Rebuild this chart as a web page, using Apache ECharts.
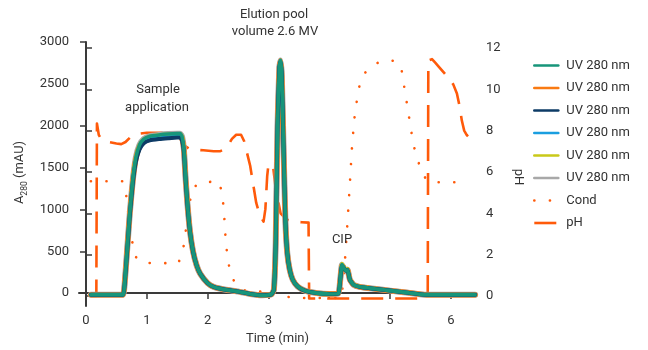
<!DOCTYPE html>
<html><head><meta charset="utf-8">
<script src="https://cdn.jsdelivr.net/npm/echarts@6/dist/echarts.min.js"></script>
<style>html,body{margin:0;padding:0;background:#fff}#c{width:648px;height:350px}</style>
</head><body><div id="c"></div>
<script>
// ---- data (time in min) ----
const xTicks = [0, 1, 2, 3, 4, 5, 6];
const leftTicks = [0, 500, 1000, 1500, 2000, 2500, 3000];
const rightTicks = [0, 2, 4, 6, 8, 10, 12];

const uvTime = [0.08,0.5,0.61,0.64,0.68,0.72,0.77,0.82,0.88,0.95,
  1.05,1.2,1.35,1.5,1.55,1.58,1.61,1.64,1.67,1.71,
  1.76,1.82,1.88,2.0,2.1,2.3,2.5,2.7,2.9,3.05,
  3.09,3.12,3.15,3.18,3.20,3.22,3.25,3.28,3.31,3.35,
  3.40,3.48,3.6,3.8,4.0,4.15,4.18,4.21,4.24,4.27,
  4.30,4.34,4.40,4.5,4.7,5.0,5.3,5.6,6.0,6.4];

const uvGreen = [-20,-20,-20,150,550,950,1350,1620,1770,1840,
  1875,1890,1900,1905,1905,1870,1720,1350,1050,740,
  500,330,230,120,75,40,20,-10,-25,-15,
  40,600,2000,2700,2780,2600,1700,850,480,280,
  160,80,30,0,-10,-5,150,340,300,270,
  280,160,100,75,55,30,5,-20,-20,-20];
const uvOrange = [-20,-20,-20,150,550,950,1340,1600,1750,1815,
  1855,1870,1880,1885,1885,1850,1710,1350,1050,740,
  500,330,230,120,75,40,20,-10,-25,-15,
  40,600,2000,2700,2775,2600,1700,850,480,280,
  160,80,30,0,-10,-5,150,335,300,270,
  280,160,100,75,55,30,5,-20,-20,-20];
const uvNavy = [-20,-20,-20,140,530,930,1320,1570,1715,1790,
  1825,1840,1850,1858,1858,1825,1690,1335,1040,735,
  500,330,230,120,75,40,20,-10,-25,-15,
  40,600,2000,2700,2770,2600,1700,850,480,280,
  160,80,30,0,-10,-5,150,330,300,270,
  280,160,100,75,55,30,5,-20,-20,-20];
const uvLightBlue = [-20,-20,-20,145,540,940,1330,1585,1730,1800,
  1835,1850,1860,1868,1868,1835,1695,1340,1045,738,
  500,330,230,120,75,40,20,-10,-25,-15,
  40,600,2000,2700,2775,2600,1700,850,480,280,
  160,80,30,0,-10,-5,150,335,300,270,
  280,160,100,75,55,30,5,-20,-20,-20];
const uvYellow = [-20,-20,-20,150,550,950,1350,1615,1765,1835,
  1870,1885,1895,1900,1900,1865,1715,1350,1050,740,
  500,330,230,120,75,40,20,-10,-25,-15,
  40,600,2000,2700,2780,2600,1700,850,480,280,
  160,80,30,0,-10,-5,160,350,310,280,
  290,170,105,78,57,30,5,-20,-20,-20];
const uvGray = [-20,-20,-20,150,550,950,1350,1620,1770,1840,
  1875,1890,1900,1905,1905,1870,1720,1350,1050,740,
  500,330,230,120,75,40,20,-10,-25,-15,
  40,600,2000,2700,2780,2600,1700,850,480,280,
  160,80,30,0,-10,-5,150,340,300,270,
  280,160,100,75,55,30,5,-20,-20,-20];

const condTime = [0.08,0.6,0.66,0.69,0.74,0.8,0.9,1.0,1.52,1.6,
  1.63,1.66,1.74,1.85,1.93,2.18,2.24,2.27,2.3,2.33,
  2.37,2.43,2.5,2.6,2.72,2.85,3.05,3.15,3.27,3.52,
  4.2,4.24,4.26,4.31,4.34,4.37,4.41,4.48,4.56,4.65,
  4.74,4.85,4.98,5.1,5.18,5.22,5.26,5.3,5.34,5.38,
  5.44,5.53,5.6,5.71,6.27];
const condValues = [5.55,5.55,4.9,4.17,3.0,1.95,1.65,1.6,1.58,2.3,
  2.9,3.6,5.15,5.45,5.5,5.55,5.0,4.0,2.6,1.8,
  1.2,0.75,0.45,0.28,0.18,0.2,0.37,0.2,-0.03,-0.1,
  -0.1,1.0,1.75,4.0,5.47,7.0,8.5,10.0,10.7,11.0,
  11.2,11.35,11.42,11.35,11.13,10.37,9.64,8.9,8.14,7.41,
  6.68,5.99,5.6,5.5,5.5];

const phTime = [0.08,0.17,0.18,0.21,0.25,0.37,0.5,0.58,0.65,0.72,
  0.86,1.0,1.3,1.52,1.57,1.62,1.7,1.8,1.93,2.1,
  2.2,2.28,2.34,2.4,2.47,2.55,2.6,2.65,2.7,2.75,
  2.8,2.86,2.92,2.95,2.98,3.0,3.04,3.08,3.12,3.2,
  3.3,3.4,3.55,3.66,3.67,4.0,4.5,5.0,5.62,5.63,
  5.66,5.69,5.74,5.8,5.89,5.97,6.04,6.1,6.15,6.18,
  6.22,6.26,6.29];
const phValues = [0,0,8.35,7.8,7.58,7.45,7.38,7.35,7.45,7.65,
  7.85,7.9,7.9,7.85,7.5,7.28,7.12,7.07,7.05,7.0,
  7.0,7.1,7.3,7.6,7.8,7.8,7.5,6.9,6.3,5.4,
  4.5,3.9,3.6,4.2,5.8,6.35,6.4,6.2,5.2,4.0,
  3.7,3.6,3.57,3.55,-0.12,-0.12,-0.12,-0.12,-0.12,11.4,
  11.48,11.46,11.3,11.1,10.8,10.5,10.24,9.8,9.1,8.5,
  8.0,7.8,7.7];

// ---- build ----
const zip = (xs, ys) => xs.map((x, i) => [x, ys[i]]);
const FONT = 'Roboto';
const TXT = '#333';
const AX = '#3a3a3a';
const ORANGE_R = '#ff5a0a';

function uv(name, color, width, values, z) {
  return { name: name, type: 'line', xAxisIndex: 0, yAxisIndex: 0, symbol: 'none',
    smooth: 0.15, z: z, data: zip(uvTime, values),
    lineStyle: { color: color, width: width, join: 'round', cap: 'round' }, itemStyle: { color: color } };
}

const series = [
  uv('UV 280 nm#6', '#a8a8a8', 6, uvGray, 2),
  uv('UV 280 nm#2', '#f97a12', 5.2, uvOrange, 3),
  uv('UV 280 nm#5', '#c9c919', 4, uvYellow, 4),
  uv('UV 280 nm#4', '#1a9ee0', 4, uvLightBlue, 5),
  uv('UV 280 nm#3', '#0d3b66', 4, uvNavy, 6),
  uv('UV 280 nm#1', '#17957a', 3.6, uvGreen, 7),
  { name: 'Cond', type: 'line', xAxisIndex: 1, yAxisIndex: 1, symbol: 'none', z: 1,
    data: zip(condTime, condValues),
    lineStyle: { color: ORANGE_R, width: 2.6, type: [0.1, 15.5], cap: 'round' }, itemStyle: { color: ORANGE_R } },
  { name: 'pH', type: 'line', xAxisIndex: 1, yAxisIndex: 1, symbol: 'none', z: 1,
    data: zip(phTime, phValues),
    lineStyle: { color: ORANGE_R, width: 2.6, type: [22, 12], cap: 'butt', join: 'round' }, itemStyle: { color: ORANGE_R } }
];

const axLine = { show: true, lineStyle: { color: AX, width: 2 } };
const axTick = (vals) => ({ show: true, inside: false, length: 6, customValues: vals, lineStyle: { color: AX, width: 1.5 } });
const axLabel = (vals, m) => ({ show: true, customValues: vals, margin: m, fontSize: 13, color: TXT, fontFamily: FONT,
  formatter: (v) => String(v) });

const chart = echarts.init(document.getElementById('c'), null, { renderer: 'canvas' });
chart.setOption({
  animation: false,
  backgroundColor: '#fff',
  grid: [
    { left: 79, right: 172, top: 42, bottom: 44, containLabel: false },
    { left: 79, right: 172, top: 48, bottom: 44, containLabel: false }
  ],
  xAxis: [
    { type: 'value', gridIndex: 0, min: -0.115, max: 6.414, axisLine: axLine, axisTick: axTick(xTicks),
      axisLabel: axLabel(xTicks, 11), splitLine: { show: false },
      name: 'Time (min)', nameLocation: 'middle', nameGap: 29,
      nameTextStyle: { fontSize: 13, color: TXT, fontFamily: FONT } },
    { type: 'value', gridIndex: 1, min: -0.115, max: 6.414, show: false }
  ],
  yAxis: [
    { type: 'value', gridIndex: 0, position: 'left', min: -118, max: 3000,
      axisLine: axLine, axisTick: axTick(leftTicks), axisLabel: axLabel(leftTicks, 10), splitLine: { show: false },
      name: '{a|A}{s|280}{a| (mAU)}', nameLocation: 'middle', nameGap: 43,
      nameTextStyle: { fontFamily: FONT, color: TXT, rich: {
        a: { fontSize: 13, lineHeight: 18, color: TXT, fontFamily: FONT },
        s: { fontSize: 8.5, lineHeight: 9, verticalAlign: 'bottom', color: TXT, fontFamily: FONT } } } },
    { type: 'value', gridIndex: 1, position: 'right', min: -0.485, max: 12,
      axisLine: axLine, axisTick: axTick(rightTicks), axisLabel: axLabel(rightTicks, 10), splitLine: { show: false },
      name: 'pH', nameLocation: 'middle', nameGap: 29, nameRotate: -90,
      nameTextStyle: { fontSize: 13, color: TXT, fontFamily: FONT } }
  ],
  legend: {
    orient: 'vertical', left: 533, top: 59, itemWidth: 24, itemHeight: 14, itemGap: 9.5, padding: 0,
    data: ['UV 280 nm#1', 'UV 280 nm#2', 'UV 280 nm#3', 'UV 280 nm#4', 'UV 280 nm#5', 'UV 280 nm#6', 'Cond', 'pH'],
    formatter: (n) => n.split('#')[0],
    lineStyle: { width: 2.6 },
    itemStyle: { opacity: 0 },
    textStyle: { fontSize: 13, color: TXT, fontFamily: FONT, padding: [0, 0, 0, 3] }
  },
  graphic: [
    { type: 'text', z: 100, style: { text: 'Sample', x: 158, y: 90, textAlign: 'center', textVerticalAlign: 'middle', fill: TXT, font: '13px Roboto' } },
    { type: 'text', z: 100, style: { text: 'application', x: 157, y: 108, textAlign: 'center', textVerticalAlign: 'middle', fill: TXT, font: '13px Roboto' } },
    { type: 'text', z: 100, style: { text: 'Elution pool', x: 274, y: 15, textAlign: 'center', textVerticalAlign: 'middle', fill: TXT, font: '13px Roboto' } },
    { type: 'text', z: 100, style: { text: 'volume 2.6 MV', x: 275, y: 32, textAlign: 'center', textVerticalAlign: 'middle', fill: TXT, font: '13px Roboto' } },
    { type: 'text', z: 100, style: { text: 'CIP', x: 342, y: 240, textAlign: 'center', textVerticalAlign: 'middle', fill: TXT, font: '13px Roboto' } }
  ],
  series: series
});
</script>
</body></html>
